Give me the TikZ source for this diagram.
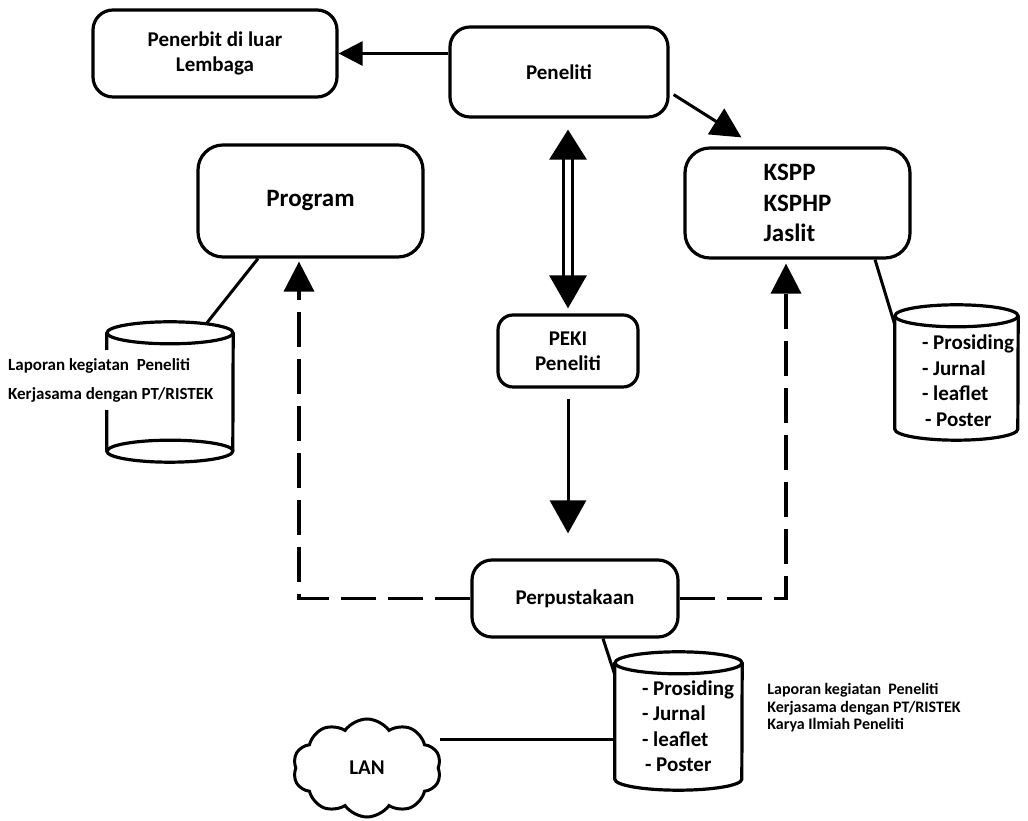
\documentclass[tikz,border=0pt]{standalone}
\usepackage{fontspec}
\setmainfont{Carlito}
\usepackage{tikz}
\usetikzlibrary{arrows.meta,positioning,shapes.symbols}

\begin{document}
\begin{tikzpicture}[
    x=1pt, y=1pt,
    box/.style={draw, line width=3.2pt, rounded corners=20pt, align=center, inner sep=0pt, font=\bfseries\fontsize{21}{25}\selectfont},
    bigbox/.style={box, rounded corners=25pt, font=\bfseries\fontsize{25}{30.5}\selectfont},
    dbshape/.style={inner sep=0pt},
    dbline/.style={line width=3.2pt},
    dbtext/.style={align=left, inner sep=0pt, font=\bfseries\fontsize{21}{25.5}\selectfont},
    note/.style={align=left, inner sep=0pt, font=\bfseries\fontsize{16}{17.5}\selectfont},
    cloudshape/.style={draw, cloud, cloud puffs=10, cloud puff arc=110, cloud ignores aspect, line width=3pt, inner sep=0pt, font=\bfseries\fontsize{21}{25}\selectfont},
    link/.style={line width=3pt},
    arr/.style={-{Triangle[length=30pt, width=30pt]}, line width=3pt},
    dasharr/.style={arr, dash pattern=on 35pt off 12pt, line width=3.5pt},
    dblarrow/.style={{Triangle[length=30pt, width=37pt]}-{Triangle[length=33pt, width=37pt]}, double, double distance=6pt, line width=3pt}
]
    \useasboundingbox (0,0) rectangle (1028,821);

    % Cylinder outline drawn round a named node
    \def\drawdb#1#2{%
        \draw[dbline] ([yshift=-11pt]#1.north west) -- ([yshift=11pt]#1.south west)
            arc[start angle=180, end angle=360, x radius=#2, y radius=11pt]
            -- ([yshift=-11pt]#1.north east);
        \draw[dbline] ([yshift=-11pt]#1.north) ellipse[x radius=#2, y radius=11pt];
    }

    % The boxes
    \node[box, minimum width=244pt, minimum height=87pt] (penerbit) at (215,767.5) {Penerbit di luar\\Lembaga};
    \node[box, minimum width=218pt, minimum height=90pt] (peneliti) at (559,749) {Peneliti};
    \node[bigbox, minimum width=225pt, minimum height=112pt] (program) at (310.5,620) {Program};
    \node[bigbox, align=left, minimum width=225pt, minimum height=110pt] (kspp) at (797.5,618) {KSPP\\KSPHP\\Jaslit};
    \node[box, rounded corners=15pt, minimum width=140pt, minimum height=72pt] (peki) at (568,470) {PEKI\\Peneliti};
    \node[box, minimum width=206pt, minimum height=77pt] (perpus) at (575,222.5) {Perpustakaan};
    \node[cloudshape, minimum width=148pt, minimum height=98pt] (lan) at (367,53) {LAN};

    % The databases
    \node[dbshape, minimum width=126pt, minimum height=140pt] (dbprog) at (170,429) {};
    \node[dbshape, minimum width=123pt, minimum height=135pt] (dbkspp) at (956.5,448.5) {};
    \node[dbshape, minimum width=127pt, minimum height=138pt] (dbperpus) at (678.5,100) {};
    \drawdb{dbprog}{63pt}
    \drawdb{dbkspp}{61.5pt}
    \drawdb{dbperpus}{63.5pt}
    \draw[dbline] ([yshift=11pt]dbprog.south east) arc[start angle=0, end angle=180, x radius=63pt, y radius=11pt];

    \node[dbtext, right=27pt of dbkspp.west, yshift=-8pt] (kspplist) {- Prosiding\\- Jurnal\\- leaflet\\\hspace{3pt}- Poster};
    \node[dbtext, right=27pt of dbperpus.west, yshift=-5pt] (perpuslist) {- Prosiding\\- Jurnal\\- leaflet\\\hspace{3pt}- Poster};
    \node[note, right=25pt of dbperpus.east, yshift=13pt] (perpusnote) {Laporan kegiatan~ Peneliti\\Kerjasama dengan PT/RISTEK\\Karya Ilmiah Peneliti};

    % Arrows between the boxes
    \draw[arr, -{Triangle[length=24pt, width=24pt]}] (peneliti.west |- penerbit.east) -- (penerbit.east);
    \draw[arr] ([xshift=4pt,yshift=24pt]peneliti.south east) -- ([xshift=58pt,yshift=9pt]kspp.north west);
    \draw[dblarrow, shorten <=11pt, shorten >=5pt] (peki.north |- peneliti.south) -- (peki.north);
    \draw[arr, -{Triangle[length=33pt, width=36pt]}, shorten <=10pt, shorten >=25pt] (peki.south) -- (peki.south |- perpus.north);

    % Dashed returns to Program and KSPP
    \coordinate (progin) at ([xshift=-11.5pt,yshift=-3pt]program.south);
    \coordinate (ksppin) at ([xshift=-11.5pt,yshift=-4pt]kspp.south);
    \draw[dasharr] (perpus.west) -| (progin);
    \draw[dasharr] (perpus.east) -| (ksppin);

    % Links to the databases
    \draw[link] ([xshift=-52.5pt]program.south) -- ([xshift=37pt,yshift=-1pt]dbprog.north);
    \draw[link] ([xshift=77.5pt]kspp.south) -- ([yshift=-20pt]dbkspp.north west);
    \draw[link] ([xshift=28pt]perpus.south) -- ([yshift=-23pt]dbperpus.north west);
    \draw[link] ([yshift=-19pt]dbperpus.west) -- ([yshift=-19pt]dbperpus.west -| lan.east);

    % Note over the left database
    \node[note, fill=white, inner sep=8pt, anchor=west, font=\bfseries\fontsize{17}{29}\selectfont] (prognote) at (0,441) {Laporan kegiatan~ Peneliti\\Kerjasama dengan PT/RISTEK};
\end{tikzpicture}
\end{document}
